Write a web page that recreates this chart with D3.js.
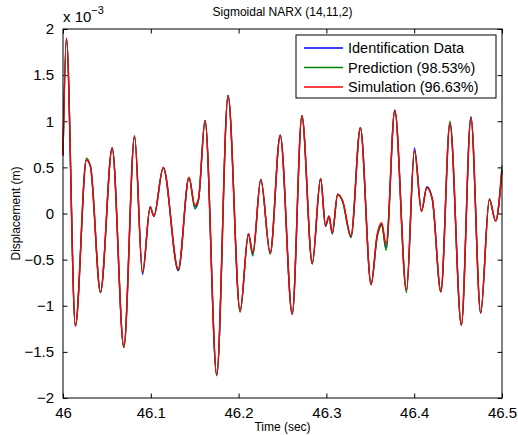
<!DOCTYPE html>
<html>
<head>
<meta charset="utf-8">
<script src="https://cdn.jsdelivr.net/npm/d3@7"></script>
<style>
  body { margin: 0; background: #fff; }
  svg { display: block; font-family: "Liberation Sans", Arial, sans-serif; }
</style>
</head>
<body>
<div id="chart"></div>
<script>
// data (displacement in units of 1e-3 m)
const times = [46.000, 46.0039, 46.0141, 46.0267, 46.0313, 46.0427, 46.056, 46.0693, 46.0815, 46.0906,
  46.0993, 46.1035, 46.1142, 46.1313, 46.1435, 46.1503, 46.1543, 46.1618, 46.1751, 46.188,
  46.2017, 46.2112, 46.2162, 46.2253, 46.236, 46.2474, 46.2611, 46.2721, 46.2839, 46.2934,
  46.299, 46.303, 46.3067, 46.3128, 46.3185, 46.328, 46.3387, 46.3509, 46.3578, 46.363,
  46.368, 46.3779, 46.3912, 46.4003, 46.4083, 46.4144, 46.4206, 46.4304, 46.4407, 46.4537,
  46.4646, 46.4757, 46.4856, 46.4928, 46.500];
const identData = [0.63, 1.90, -1.22, 0.58, 0.51, -0.85, 0.71, -1.45, 0.84, -0.66,
  0.07, -0.03, 0.50, -0.62, 0.39, 0.07, 0.15, 1.01, -1.75, 1.28,
  -1.06, -0.22, -0.44, 0.37, -0.43, 0.85, -1.09, 1.06, -0.54, 0.38,
  -0.14, -0.03, -0.22, 0.21, 0.13, -0.25, 0.93, -0.77, -0.24, -0.12,
  -0.37, 1.12, -0.83, 0.71, 0.03, 0.29, 0.16, -0.85, 0.98, -1.21,
  1.05, -1.08, 0.15, -0.08, 0.48];
const predData = [0.63, 1.90, -1.22, 0.60, 0.51, -0.86, 0.71, -1.45, 0.83, -0.64,
  0.07, -0.03, 0.49, -0.61, 0.39, 0.05, 0.14, 1.01, -1.76, 1.28,
  -1.07, -0.23, -0.46, 0.37, -0.44, 0.85, -1.09, 1.06, -0.55, 0.38,
  -0.13, -0.03, -0.22, 0.20, 0.13, -0.26, 0.93, -0.77, -0.26, -0.13,
  -0.40, 1.12, -0.86, 0.68, 0.03, 0.28, 0.15, -0.85, 1.00, -1.21,
  1.04, -1.08, 0.16, -0.08, 0.52];
const simData = [0.63, 1.90, -1.22, 0.58, 0.51, -0.85, 0.71, -1.45, 0.84, -0.64,
  0.07, -0.03, 0.50, -0.60, 0.39, 0.09, 0.16, 1.01, -1.75, 1.28,
  -1.06, -0.22, -0.42, 0.37, -0.43, 0.85, -1.09, 1.06, -0.54, 0.38,
  -0.13, -0.03, -0.21, 0.21, 0.14, -0.24, 0.93, -0.77, -0.23, -0.10,
  -0.33, 1.12, -0.83, 0.68, 0.02, 0.28, 0.16, -0.85, 0.98, -1.21,
  1.04, -1.08, 0.155, -0.08, 0.46];
const xTicks = [46, 46.1, 46.2, 46.3, 46.4, 46.5];
const yTicks = [-2, -1.5, -1, -0.5, 0, 0.5, 1, 1.5, 2];
const seriesNames = ["Identification Data", "Prediction (98.53%)", "Simulation (96.63%)"];
const seriesColors = ["#0000ff", "#008000", "#ff0000"];

const W = 518, H = 435;
const m = { left: 63, right: 16, top: 29, bottom: 37 };

const svg = d3.select("#chart").append("svg").attr("width", W).attr("height", H);

const x = d3.scaleLinear().domain([46, 46.5]).range([m.left, W - m.right]);
const y = d3.scaleLinear().domain([-2, 2]).range([H - m.bottom, m.top]);
const fmt = d3.format("~g");

// ticks (inward, on all four sides like matlab box)
const tl = 4.5;
svg.append("g").attr("transform", `translate(0,${H - m.bottom})`)
  .call(d3.axisBottom(x).tickValues(xTicks).tickSize(-tl).tickPadding(9).tickFormat(fmt))
  .call(g => g.select(".domain").remove())
  .call(g => g.selectAll("text").attr("font-size", 15).attr("fill", "#000").attr("font-family", "Liberation Sans, Arial, sans-serif"));
svg.append("g").attr("transform", `translate(0,${m.top})`)
  .call(d3.axisTop(x).tickValues(xTicks).tickSize(-tl).tickFormat(""))
  .call(g => g.select(".domain").remove());
svg.append("g").attr("transform", `translate(${m.left},0)`)
  .call(d3.axisLeft(y).tickValues(yTicks).tickSize(-tl).tickPadding(9).tickFormat(fmt))
  .call(g => g.select(".domain").remove())
  .call(g => g.selectAll("text").attr("font-size", 15).attr("fill", "#000").attr("font-family", "Liberation Sans, Arial, sans-serif"));
svg.append("g").attr("transform", `translate(${W - m.right},0)`)
  .call(d3.axisRight(y).tickValues(yTicks).tickSize(-tl).tickFormat(""))
  .call(g => g.select(".domain").remove());

// lines
const series = [identData, predData, simData];
const line = d3.line()
  .x((d, i) => x(times[i]))
  .y(d => y(d))
  .curve(d3.curveMonotoneX);

svg.append("g").selectAll("path")
  .data(series)
  .join("path")
  .attr("fill", "none")
  .attr("stroke", (d, i) => seriesColors[i])
  .attr("stroke-width", 1.4)
  .attr("d", line);

// box
svg.append("rect")
  .attr("x", m.left).attr("y", m.top)
  .attr("width", W - m.left - m.right).attr("height", H - m.top - m.bottom)
  .attr("fill", "none").attr("stroke", "#000").attr("stroke-width", 1);

// exponent
const ex = svg.append("text").attr("x", m.left).attr("y", 22).attr("font-size", 15);
ex.append("tspan").text("x 10");
ex.append("tspan").attr("dy", -8).attr("font-size", 11).text("\u22123");

// title and labels
svg.append("text").attr("x", (m.left + W - m.right) / 2).attr("y", 16)
  .attr("text-anchor", "middle").attr("font-size", 12).text("Sigmoidal NARX (14,11,2)");
svg.append("text").attr("x", (m.left + W - m.right) / 2).attr("y", 431)
  .attr("text-anchor", "middle").attr("font-size", 12).text("Time (sec)");
svg.append("text")
  .attr("transform", `translate(20,${(m.top + H - m.bottom) / 2}) rotate(-90)`)
  .attr("text-anchor", "middle").attr("font-size", 12).text("Displacement (m)");

// legend
const lg = svg.append("g").attr("transform", "translate(296,35)");
lg.append("rect").attr("width", 200).attr("height", 63)
  .attr("fill", "#fff").attr("stroke", "#000").attr("stroke-width", 1);
seriesNames.forEach((name, i) => {
  const yy = 13 + i * 19.5;
  lg.append("line").attr("x1", 8).attr("x2", 47).attr("y1", yy).attr("y2", yy)
    .attr("stroke", seriesColors[i]).attr("stroke-width", 1.3);
  lg.append("text").attr("x", 52).attr("y", yy + 5).attr("font-size", 14.5).text(name);
});
</script>
</body>
</html>
